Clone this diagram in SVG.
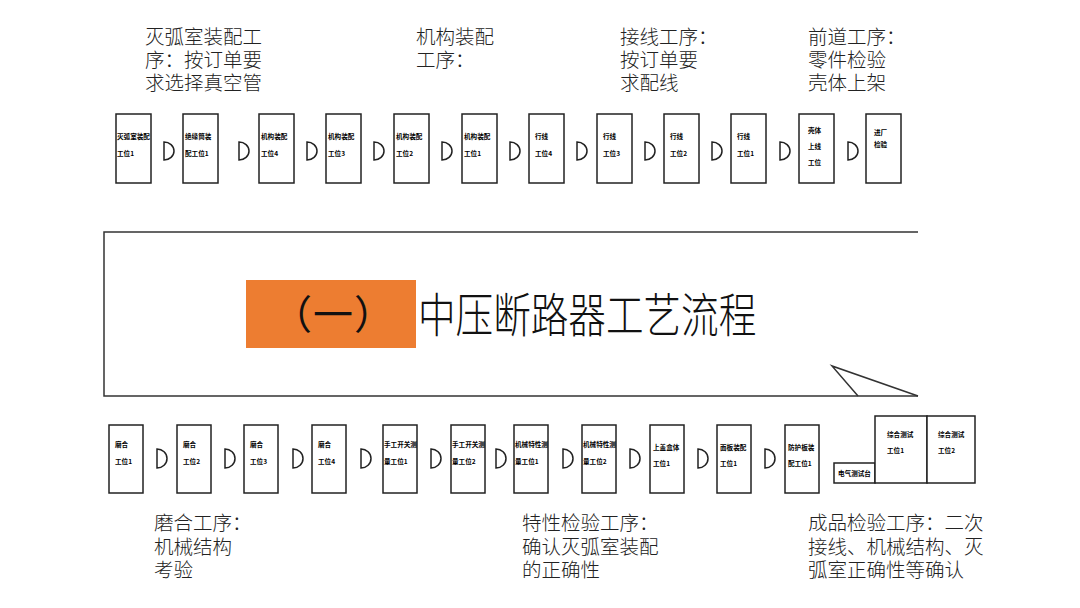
<svg xmlns="http://www.w3.org/2000/svg" width="1080" height="608" viewBox="0 0 1080 608">
<style>
.lbl{font-family:"Noto Sans CJK SC","Noto Sans",sans-serif;font-size:19.5px;font-weight:300;fill:#222}
.box{fill:#fff;stroke:#222;stroke-width:1.5}
.bt{font-family:"Noto Sans CJK SC","Noto Sans",sans-serif;font-size:6.6px;font-weight:700;fill:#000}
.d{fill:#fff;stroke:#222;stroke-width:1.5}
.ln{fill:none;stroke:#333;stroke-width:1.5}
</style>
<rect width="1080" height="608" fill="#fff"/>
<g id="lbl-top">
<text class="lbl" x="145" y="44">灭弧室装配工</text>
<text class="lbl" x="145" y="67">序：按订单要</text>
<text class="lbl" x="145" y="90">求选择真空管</text>
<text class="lbl" x="416" y="44">机构装配</text>
<text class="lbl" x="416" y="67">工序：</text>
<text class="lbl" x="620" y="44">接线工序：</text>
<text class="lbl" x="620" y="67">按订单要</text>
<text class="lbl" x="620" y="90">求配线</text>
<text class="lbl" x="808" y="44">前道工序：</text>
<text class="lbl" x="808" y="67">零件检验</text>
<text class="lbl" x="808" y="90">壳体上架</text>
</g>
<g id="lbl-bottom">
<text class="lbl" x="154" y="530">磨合工序：</text>
<text class="lbl" x="154" y="554">机械结构</text>
<text class="lbl" x="154" y="577">考验</text>
<text class="lbl" x="522" y="530">特性检验工序：</text>
<text class="lbl" x="522" y="554">确认灭弧室装配</text>
<text class="lbl" x="522" y="577">的正确性</text>
<text class="lbl" x="808" y="530">成品检验工序：二次</text>
<text class="lbl" x="808" y="554">接线、机械结构、灭</text>
<text class="lbl" x="808" y="577">弧室正确性等确认</text>
</g>
<g id="banner">
<path class="ln" d="M918,232 H104 V396 H918"/>
<path class="ln" d="M858,396 L832,366 L918,396"/>
<rect x="246" y="280" width="170" height="68" fill="#ED7D31"/>
<text x="331" y="329" text-anchor="middle" font-family="Noto Sans CJK SC, sans-serif" font-size="40" letter-spacing="-4" fill="#111">（ 一 ）</text>
<text transform="translate(418,332) scale(0.8,1)" font-family="Noto Sans CJK SC, sans-serif" font-weight="300" font-size="47" fill="#111">中压断路器工艺流程</text>
</g>
<g id="t1"><rect class="box" x="116" y="114" width="35" height="69"/><text class="bt" x="117" y="139">灭弧室装配</text><text class="bt" x="117" y="156">工位1</text></g>
<g id="t2"><rect class="box" x="183" y="114" width="35" height="69"/><text class="bt" x="185" y="139">绝缘筒装</text><text class="bt" x="185" y="156">配工位1</text></g>
<g id="t3"><rect class="box" x="259" y="114" width="35" height="69"/><text class="bt" x="261" y="139">机构装配</text><text class="bt" x="261" y="156">工位4</text></g>
<g id="t4"><rect class="box" x="326" y="114" width="35" height="69"/><text class="bt" x="328" y="139">机构装配</text><text class="bt" x="328" y="156">工位3</text></g>
<g id="t5"><rect class="box" x="394" y="114" width="35" height="69"/><text class="bt" x="396" y="139">机构装配</text><text class="bt" x="396" y="156">工位2</text></g>
<g id="t6"><rect class="box" x="462" y="114" width="35" height="69"/><text class="bt" x="464" y="139">机构装配</text><text class="bt" x="464" y="156">工位1</text></g>
<g id="t7"><rect class="box" x="529" y="114" width="35" height="69"/><text class="bt" x="535" y="139">行线</text><text class="bt" x="535" y="156">工位4</text></g>
<g id="t8"><rect class="box" x="597" y="114" width="35" height="69"/><text class="bt" x="603" y="139">行线</text><text class="bt" x="603" y="156">工位3</text></g>
<g id="t9"><rect class="box" x="664" y="114" width="35" height="69"/><text class="bt" x="670" y="139">行线</text><text class="bt" x="670" y="156">工位2</text></g>
<g id="t10"><rect class="box" x="731" y="114" width="35" height="69"/><text class="bt" x="737" y="139">行线</text><text class="bt" x="737" y="156">工位1</text></g>
<g id="t11"><rect class="box" x="799" y="114" width="35" height="69"/><text class="bt" x="808" y="133">壳体</text><text class="bt" x="808" y="149">上线</text><text class="bt" x="808" y="165">工位</text></g>
<g id="t12"><rect class="box" x="866" y="114" width="35" height="69"/><text class="bt" x="874" y="135">进厂</text><text class="bt" x="874" y="147">检验</text></g>
<g id="b1"><rect class="box" x="109" y="425" width="34" height="68"/><text class="bt" x="115" y="447">磨合</text><text class="bt" x="115" y="464">工位1</text></g>
<g id="b2"><rect class="box" x="177" y="425" width="34" height="68"/><text class="bt" x="183" y="447">磨合</text><text class="bt" x="183" y="464">工位2</text></g>
<g id="b3"><rect class="box" x="244" y="425" width="34" height="68"/><text class="bt" x="250" y="447">磨合</text><text class="bt" x="250" y="464">工位3</text></g>
<g id="b4"><rect class="box" x="312" y="425" width="34" height="68"/><text class="bt" x="318" y="447">磨合</text><text class="bt" x="318" y="464">工位4</text></g>
<g id="b5"><rect class="box" x="383" y="425" width="34" height="68"/><text class="bt" x="384" y="447">手工开关测</text><text class="bt" x="384" y="464">量工位1</text></g>
<g id="b6"><rect class="box" x="451" y="425" width="34" height="68"/><text class="bt" x="452" y="447">手工开关测</text><text class="bt" x="452" y="464">量工位2</text></g>
<g id="b7"><rect class="box" x="514" y="425" width="34" height="68"/><text class="bt" x="515" y="447">机械特性测</text><text class="bt" x="515" y="464">量工位1</text></g>
<g id="b8"><rect class="box" x="582" y="425" width="34" height="68"/><text class="bt" x="583" y="447">机械特性测</text><text class="bt" x="583" y="464">量工位2</text></g>
<g id="b9"><rect class="box" x="650" y="425" width="34" height="68"/><text class="bt" x="653" y="450">上盖盒体</text><text class="bt" x="653" y="466">工位1</text></g>
<g id="b10"><rect class="box" x="717" y="425" width="34" height="68"/><text class="bt" x="720" y="450">面板装配</text><text class="bt" x="720" y="466">工位1</text></g>
<g id="b11"><rect class="box" x="785" y="425" width="34" height="68"/><text class="bt" x="788" y="450">防护板装</text><text class="bt" x="788" y="466">配工位1</text></g>
<g id="b12"><rect class="box" x="834" y="463" width="41" height="20"/><text class="bt" x="838" y="476">电气测试台</text></g>
<g id="b13"><rect class="box" x="875" y="416" width="52" height="67"/><text class="bt" x="887" y="437">综合测试</text><text class="bt" x="887" y="453">工位1</text></g>
<g id="b14"><rect class="box" x="927" y="416" width="48" height="67"/><text class="bt" x="938" y="437">综合测试</text><text class="bt" x="938" y="453">工位2</text></g>
<g id="connectors">
<path class="d" d="M164,142 A10,9 0 0 1 164,160 Z"/>
<path class="d" d="M239,142 A10,9 0 0 1 239,160 Z"/>
<path class="d" d="M307,142 A10,9 0 0 1 307,160 Z"/>
<path class="d" d="M374,142 A10,9 0 0 1 374,160 Z"/>
<path class="d" d="M442,142 A10,9 0 0 1 442,160 Z"/>
<path class="d" d="M510,142 A10,9 0 0 1 510,160 Z"/>
<path class="d" d="M577,142 A10,9 0 0 1 577,160 Z"/>
<path class="d" d="M645,142 A10,9 0 0 1 645,160 Z"/>
<path class="d" d="M712,142 A10,9 0 0 1 712,160 Z"/>
<path class="d" d="M780,142 A10,9 0 0 1 780,160 Z"/>
<path class="d" d="M848,142 A10,9 0 0 1 848,160 Z"/>
<path class="d" d="M157,449 A10,9.5 0 0 1 157,468 Z"/>
<path class="d" d="M225,449 A10,9.5 0 0 1 225,468 Z"/>
<path class="d" d="M293,449 A10,9.5 0 0 1 293,468 Z"/>
<path class="d" d="M361,449 A10,9.5 0 0 1 361,468 Z"/>
<path class="d" d="M431,449 A10,9.5 0 0 1 431,468 Z"/>
<path class="d" d="M496,449 A10,9.5 0 0 1 496,468 Z"/>
<path class="d" d="M563,449 A10,9.5 0 0 1 563,468 Z"/>
<path class="d" d="M630,449 A10,9.5 0 0 1 630,468 Z"/>
<path class="d" d="M698,449 A10,9.5 0 0 1 698,468 Z"/>
<path class="d" d="M765,449 A10,9.5 0 0 1 765,468 Z"/>
</g>
</svg>
